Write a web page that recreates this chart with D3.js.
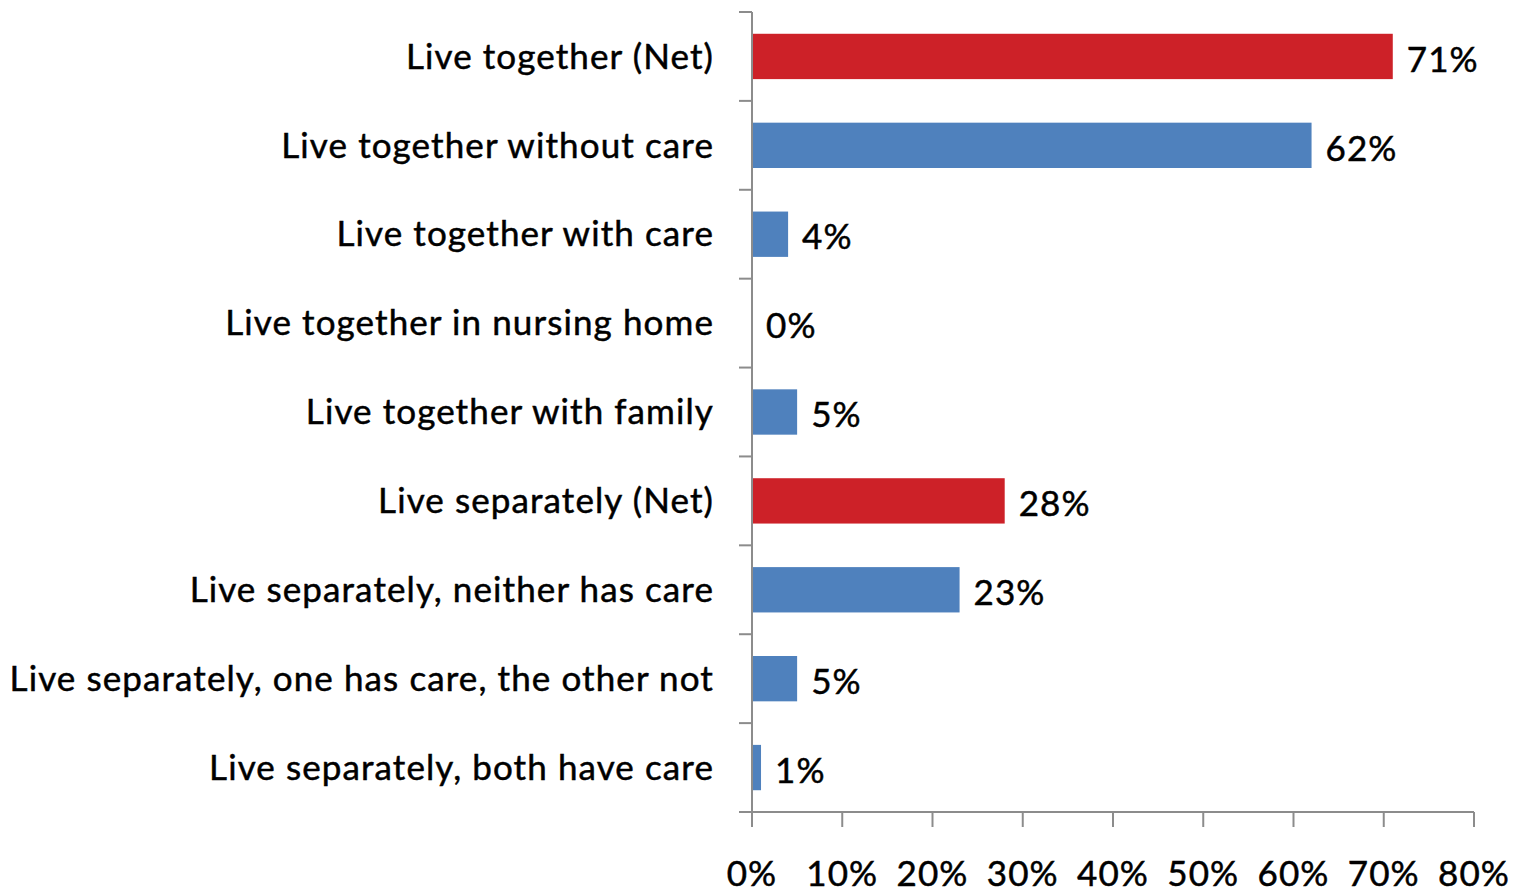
<!DOCTYPE html>
<html><head><meta charset="utf-8">
<script src="https://cdn.jsdelivr.net/npm/d3@7"></script>
<style>body{margin:0;background:#fff}svg{display:block}text{font-family:Lato,"Open Sans",sans-serif;fill:#000;stroke:#000;stroke-width:0.5px;font-size:35px;letter-spacing:1.1px}</style>
</head><body><svg id="c" width="1527" height="894"></svg>
<script>
const categories = ["Live together (Net)","Live together without care","Live together with care","Live together in nursing home","Live together with family","Live separately (Net)","Live separately, neither has care","Live separately, one has care, the other not","Live separately, both have care"];
const values = [71,62,4,0,5,28,23,5,1];
const isNet = [true,false,false,false,false,true,false,false,false];
const tickValues = [0,10,20,30,40,50,60,70,80];

(function(){
const svg = d3.select("#c");
const L = 752, R = 1474, T = 12, B = 812;
const x = d3.scaleLinear().domain([0,80]).range([L,R]);
const y = d3.scaleBand().domain(categories).range([T,B]).paddingInner(0.49).paddingOuter(0.245);
const step = (B-T)/categories.length;

svg.selectAll("rect.bar").data(values).join("rect")
  .attr("x", x(0)).attr("y",(d,i)=>y(categories[i]))
  .attr("width", d=>x(d)-x(0)).attr("height", y.bandwidth())
  .attr("fill",(d,i)=>isNet[i]?"#CD2128":"#4F81BD");

const ga = svg.append("g").attr("stroke","#8c8c8c").attr("stroke-width",2);
ga.append("line").attr("x1",L).attr("x2",L).attr("y1",T).attr("y2",B);
d3.range(categories.length+1).forEach(i=>{
  ga.append("line").attr("x1",L-13).attr("x2",L).attr("y1",T+i*step).attr("y2",T+i*step);
});
ga.append("line").attr("x1",L-13).attr("x2",R).attr("y1",B).attr("y2",B);
tickValues.forEach(t=>{
  ga.append("line").attr("x1",x(t)).attr("x2",x(t)).attr("y1",B).attr("y2",B+15);
});

svg.selectAll("text.cat").data(categories).join("text")
  .attr("x",714).attr("y",d=>y(d)+y.bandwidth()/2).attr("dy","0.35em")
  .attr("text-anchor","end").text(d=>d);

svg.selectAll("text.tick").data(tickValues).join("text")
  .attr("x",d=>x(d)).attr("y",874).attr("dy","0.35em")
  .attr("text-anchor","middle").text(d=>d+"%");

svg.selectAll("text.val").data(values).join("text")
  .attr("x",d=>x(d)+14).attr("y",(d,i)=>y(categories[i])+y.bandwidth()/2+3).attr("dy","0.35em")
  .text(d=>d+"%");
})();
</script></body></html>
